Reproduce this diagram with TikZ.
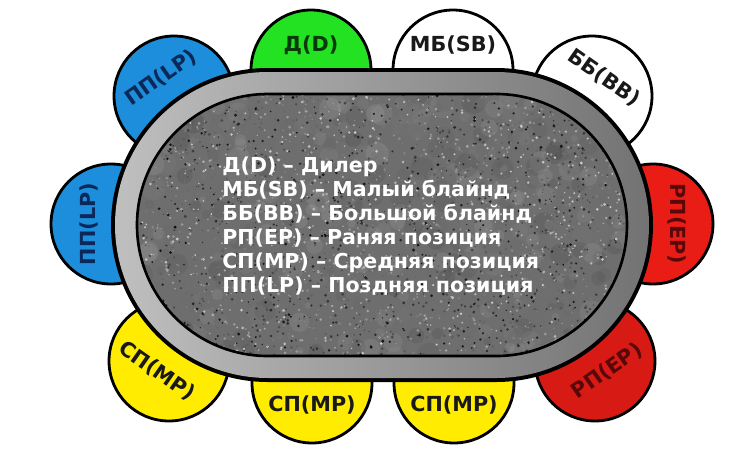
\documentclass[tikz,border=0pt]{standalone}
\usepackage{fontspec}
\setmainfont{DejaVu Sans}
\usepackage{tikz}
\definecolor{seatgreen}{RGB}{34,226,34}
\definecolor{seatblue}{RGB}{28,142,220}
\definecolor{seatred}{RGB}{234,28,22}
\definecolor{seatyellow}{RGB}{255,236,0}
\definecolor{bluetext}{RGB}{12,40,88}
\definecolor{redtext}{RGB}{88,8,8}
\newcommand\tablepath[1]{(-114,#1) -- (114,#1) arc[start angle=90,end angle=-90,radius=#1] -- (-114,-#1) arc[start angle=270,end angle=90,radius=#1] -- cycle}

\begin{document}
\begin{tikzpicture}[x=0.02cm,y=0.02cm]
 \useasboundingbox (-382,-236) rectangle (368,225);
 \begin{scope}[every node/.style={circle,draw=black,line width=1.6pt,minimum size=2.4cm,inner sep=0}]
  \node[fill=seatgreen] (d) at (-71,155) {};
  \node[fill=white] (sb) at (71,155) {};
  \node[fill=white] (bb) at (210,129) {};
  \node[fill=seatred] (ep1) at (271,1) {};
  \node[fill=seatred!92!black] (ep2) at (213,-136) {};
  \node[fill=seatyellow] (mp1) at (72,-158) {};
  \node[fill=seatyellow] (mp2) at (-70,-158) {};
  \node[fill=seatyellow] (mp3) at (-213,-136) {};
  \node[fill=seatblue] (lp1) at (-208,129) {};
  \node[fill=seatblue] (lp2) at (-271,1) {};
 \end{scope}
 \fill \tablepath{157};
 \shade[left color=black!25,right color=black!55] \tablepath{153};
 \begin{scope}
  \clip \tablepath{131};
  \fill[black!57] (-250,-135) rectangle (250,135);
  \pgfmathsetseed{7}
  \foreach \i in {1,...,400} {
   \pgfmathsetmacro\xx{245*rand}
   \pgfmathsetmacro\yy{131*rand}
   \pgfmathsetmacro\g{int(15+75*rnd)}
   \pgfmathsetmacro\r{3+9*rnd}
   \fill[black!\g,opacity=.12] (\xx,\yy) circle[radius=\r];
  }
  \foreach \i in {1,...,3200} {
   \pgfmathsetmacro\xx{245*rand}
   \pgfmathsetmacro\yy{131*rand}
   \pgfmathsetmacro\g{int(20+75*rnd)}
   \pgfmathsetmacro\r{0.6+1.0*rnd}
   \fill[black!\g] (\xx,\yy) circle[radius=\r];
  }
 \end{scope}
 \draw[line width=1.5pt] \tablepath{131};
 \begin{scope}[every node/.style={font=\bfseries\fontsize{11.8}{12}\selectfont}]
  \node[seatgreen!25!black] (d-t) at (-71,180) {Д(D)};
  \node[black!90] (sb-t) at (71,180) {МБ(SB)};
  \node[black!90,rotate=-35] (bb-t) at (222,147) {ББ(BB)};
  \node[redtext,rotate=-90] (ep1-t) at (295,1) {РП(EP)};
  \node[redtext,rotate=35] (ep2-t) at (225,-146) {РП(EP)};
  \node[black!90] (mp1-t) at (72,-180) {СП(MP)};
  \node[black!90] (mp2-t) at (-70,-180) {СП(MP)};
  \node[black!90,rotate=-35] (mp3-t) at (-225,-146) {СП(MP)};
  \node[bluetext,rotate=35] (lp1-t) at (-221,147) {ПП(LP)};
  \node[bluetext,rotate=90] (lp2-t) at (-293,1) {ПП(LP)};
 \end{scope}
 \foreach \t [count=\i] in {Д(D) – Дилер, МБ(SB) – Малый блайнд, ББ(BB) – Большой блайнд, РП(EP) – Раняя позиция, СП(MP) – Средняя позиция, ПП(LP) – Поздняя позиция}
  \node[white,anchor=base west,inner sep=0,font=\bfseries\fontsize{11.7}{12}\selectfont] (line\i) at (-160,77-24*\i) {\t};
\end{tikzpicture}
\end{document}
